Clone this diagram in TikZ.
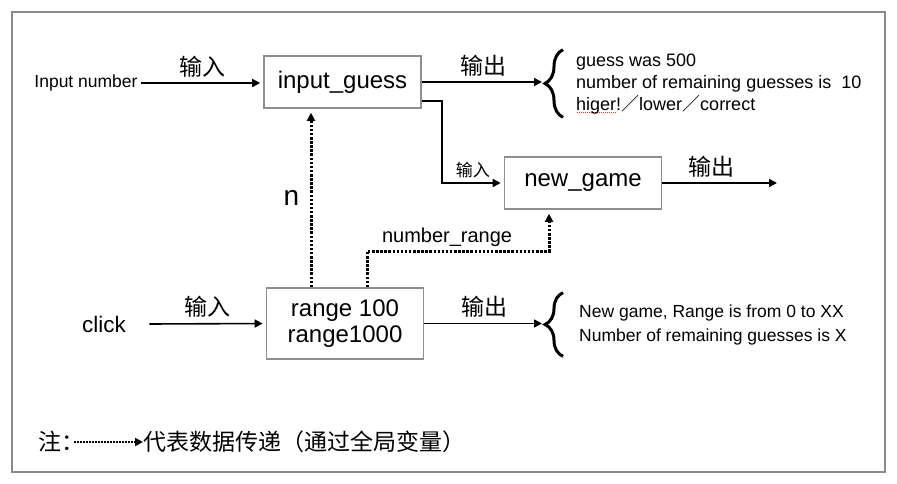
\documentclass[tikz,border=0pt]{standalone}
\usepackage{fontspec}
\setmainfont{Liberation Sans}
\newfontfamily\cjk{Noto Sans CJK SC}
\usetikzlibrary{arrows.meta,positioning,calc,decorations.pathreplacing}
\newcommand{\zh}[1]{{\cjk #1}}
\newcommand{\fs}[2]{\fontsize{#1}{#2}\selectfont}
\newcommand{\typo}[1]{\setbox0=\hbox{#1}\rlap{\color{typored}\raisebox{-3pt}{\hbox to \wd0{\leaders\hbox to 2pt{\hss\rule{1pt}{1pt}\hss}\hfill}}}\box0}
\definecolor{framegray}{HTML}{898A8C}
\definecolor{boxgray}{HTML}{8E8E8E}
\definecolor{typored}{HTML}{D33A2C}
\tikzset{box/.style={draw=boxgray,line width=1.6pt,minimum width=157pt,minimum height=52pt,align=center,font=\fs{24}{26}},
  flow/.style={-{Triangle[length=8pt,width=8pt]},line width=1.6pt,shorten >=3pt},
  dataflow/.style={-{Triangle[length=8pt,width=8pt]},line width=3pt,dash pattern=on 2.5pt off 1.6pt,shorten >=4pt},
  zhlabel/.style={font=\cjk\fs{23}{24}},
  outtext/.style={align=left,inner sep=0pt,font=\fs{18}{22}},
  curly/.style={decorate,decoration={brace,amplitude=18pt},line width=3pt}}

\begin{document}
\begin{tikzpicture}[x=1pt,y=-1pt]
\useasboundingbox (0,0) rectangle (897,484);
\draw[framegray,line width=2pt] (12,12) rectangle (885,472);
% boxes
\node[box] (guess) at (342.5,82) {input\_guess};
\node[box] (game) at (583,183) {new\_game};
\node[box,minimum height=71pt] (range) at (345,323.5) {range 100\\range1000};
% sources
\node[font=\fs{17.5}{20}] (innum) at (86,83) {Input number};
\node[font=\fs{22.5}{26}] (click) at (104,324) {click};
% results
\node[outtext,anchor=west] (out1) at (576,84) {guess was 500\\number of remaining guesses is\ \ 10\\\typo{higer}!\zh{／}lower\zh{／}correct};
\node[outtext,anchor=west,font=\fs{17.5}{24}] (out2) at (579,325) {New game, Range is from 0 to XX\\Number of remaining guesses is X};
\draw[curly] ([xshift=-13pt,yshift=-3pt]out1.south west) -- ([xshift=-13pt,yshift=4pt]out1.north west);
\draw[curly] ([xshift=-16pt,yshift=-11pt]out2.south west) -- ([xshift=-16pt,yshift=12pt]out2.north west);
\coordinate (tip1) at ([xshift=-31pt]out1.west);
\coordinate (tip2) at ([xshift=-34pt]out2.west);
\coordinate (gameend) at (780,184);
% solid flows
\draw[flow] (innum.east) -- (innum.east -| guess.west) node[midway,above=2pt,zhlabel] (in1) {输入};
\draw[flow] (click.east) ++(20,0) -- (range.west) node[midway,above=2pt,zhlabel] (in2) {输入};
\draw[flow] (guess.east) -- (guess.east -| tip1) node[midway,above=2pt,zhlabel] (res1) {输出};
\draw[flow] (range.east) -- (range.east -| tip2) node[midway,above=2pt,zhlabel] (res2) {输出};
\draw[flow] ([yshift=8pt]guess.south east) -- ++(20,0) |- (game.west) node[pos=0.75,above=1pt,font=\cjk\fs{17}{20}] (in3) {输入};
\draw[flow] (game.east) -- (game.east -| gameend) node[pos=0.42,above=2pt,zhlabel] (res3) {输出};
% data passed by globals
\draw[dataflow] ([xshift=-34pt]range.north) -- ([xshift=-34pt]range.north |- guess.south) node[midway,left=7pt,font=\fs{28}{30}] (nlabel) {n};
\draw[dataflow] ([xshift=22pt]range.north) -- ++(0,-36) -| node[pos=0.22,above=0pt,font=\fs{20}{24}] (rlabel) {number\_range} ([xshift=-34pt]game.south);
% note
\node[anchor=west,inner sep=0pt,font=\cjk\fs{23}{24}] (notehead) at (38,442) {注：};
\node[anchor=west,inner sep=0pt,font=\cjk\fs{23}{24}] (notebody) at (143,442) {代表数据传递（通过全局变量）};
\draw[-{Triangle[length=8pt,width=8pt]},line width=2.4pt,dash pattern=on 1.6pt off 1.4pt] ([xshift=-10pt]notehead.east) -- (notebody.west);
\end{tikzpicture}
\end{document}
